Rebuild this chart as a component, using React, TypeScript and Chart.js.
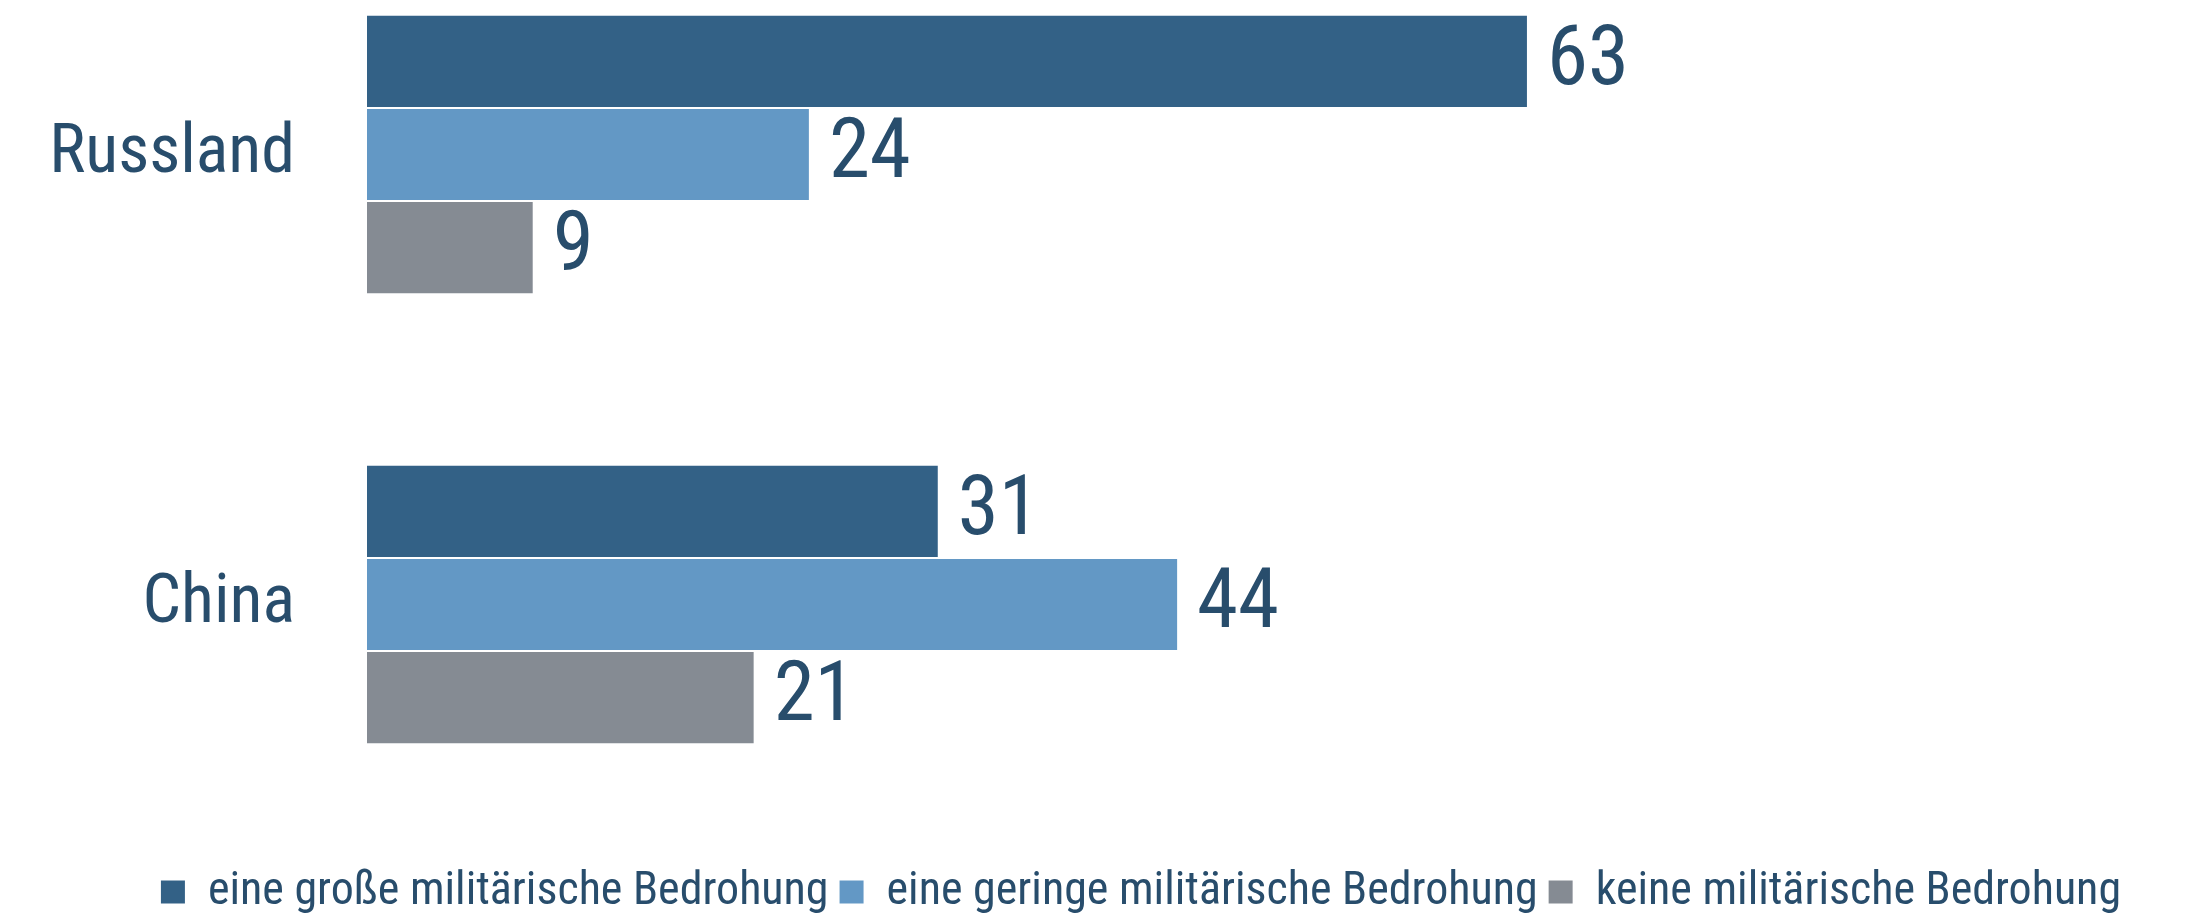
import React, { useEffect, useRef } from "react";
import { Chart, registerables } from "chart.js";

Chart.register(...registerables);

const categories = ["Russland", "China"];
const seriesNames = [
  "eine große militärische Bedrohung",
  "eine geringe militärische Bedrohung",
  "keine militärische Bedrohung",
];
const grosse = [63, 31];
const geringe = [24, 44];
const keine = [9, 21];
const seriesColors = ["#336186", "#6398c5", "#858b93"];
const textColor = "#284d6c";
const FONT = "Roboto, sans-serif";

// make every font set on this context use the condensed width of the font
function condense(ctx: CanvasRenderingContext2D) {
  const desc = Object.getOwnPropertyDescriptor(CanvasRenderingContext2D.prototype, "font");
  if (!desc || !desc.set || !desc.get) return;
  Object.defineProperty(ctx, "font", {
    configurable: true,
    get() {
      return desc.get!.call(this);
    },
    set(v: string) {
      desc.set!.call(this, v);
      (this as any).fontStretch = "condensed";
    },
  });
}

const valueLabels = {
  id: "valueLabels",
  afterDatasetsDraw(chart: any) {
    const ctx = chart.ctx;
    ctx.save();
    ctx.font = `normal 83px ${FONT}`;
    ctx.fillStyle = textColor;
    ctx.textAlign = "left";
    ctx.textBaseline = "middle";
    chart.data.datasets.forEach((ds: any, i: number) => {
      const meta = chart.getDatasetMeta(i);
      meta.data.forEach((el: any, j: number) => {
        ctx.fillText(String(ds.data[j]), el.x + 20, el.y + 2);
      });
    });
    ctx.restore();
  },
};

export default function App() {
  const ref = useRef<HTMLCanvasElement>(null);
  useEffect(() => {
    if (!ref.current) return;
    const c2d = ref.current.getContext("2d");
    if (c2d) condense(c2d);
    const series = [grosse, geringe, keine];
    const chart = new Chart(ref.current, {
      type: "bar",
      data: {
        labels: categories,
        datasets: series.map((d, i) => ({
          label: seriesNames[i],
          data: d,
          backgroundColor: seriesColors[i],
          borderWidth: 0,
          categoryPercentage: 0.6214,
          barPercentage: 0.9785,
          clip: false as any,
        })),
      },
      options: {
        indexAxis: "y",
        responsive: false,
        animation: false,
        devicePixelRatio: 1,
        layout: { padding: { top: 154.5, left: 37, right: 0, bottom: 0 } },
        scales: {
          y: {
            offset: false,
            grid: { display: false, drawTicks: false },
            border: { display: false },
            ticks: {
              padding: 72,
              color: textColor,
              font: { family: FONT, size: 68 },
            },
            afterFit: (s: any) => {
              s.width = 330;
            },
          },
          x: {
            min: 0,
            max: 102,
            display: true,
            grid: { display: false, drawTicks: false },
            border: { display: false },
            ticks: { display: false },
            afterFit: (s: any) => {
              s.height = 253.5;
            },
          },
        },
        plugins: {
          legend: {
            position: "bottom",
            labels: {
              boxWidth: 24,
              boxHeight: 23,
              padding: 11,
              color: textColor,
              font: { family: FONT, size: 46 },
            },
          },
          tooltip: { enabled: false },
        },
      },
      plugins: [valueLabels],
    });
    return () => chart.destroy();
  }, []);
  return (
    <div
      style={{
        position: "fixed",
        left: 0,
        top: 0,
        width: 2193,
        height: 918,
        overflow: "hidden",
        background: "#fff",
      }}
    >
      <canvas ref={ref} width={2245} height={925} style={{ display: "block" }} />
    </div>
  );
}
